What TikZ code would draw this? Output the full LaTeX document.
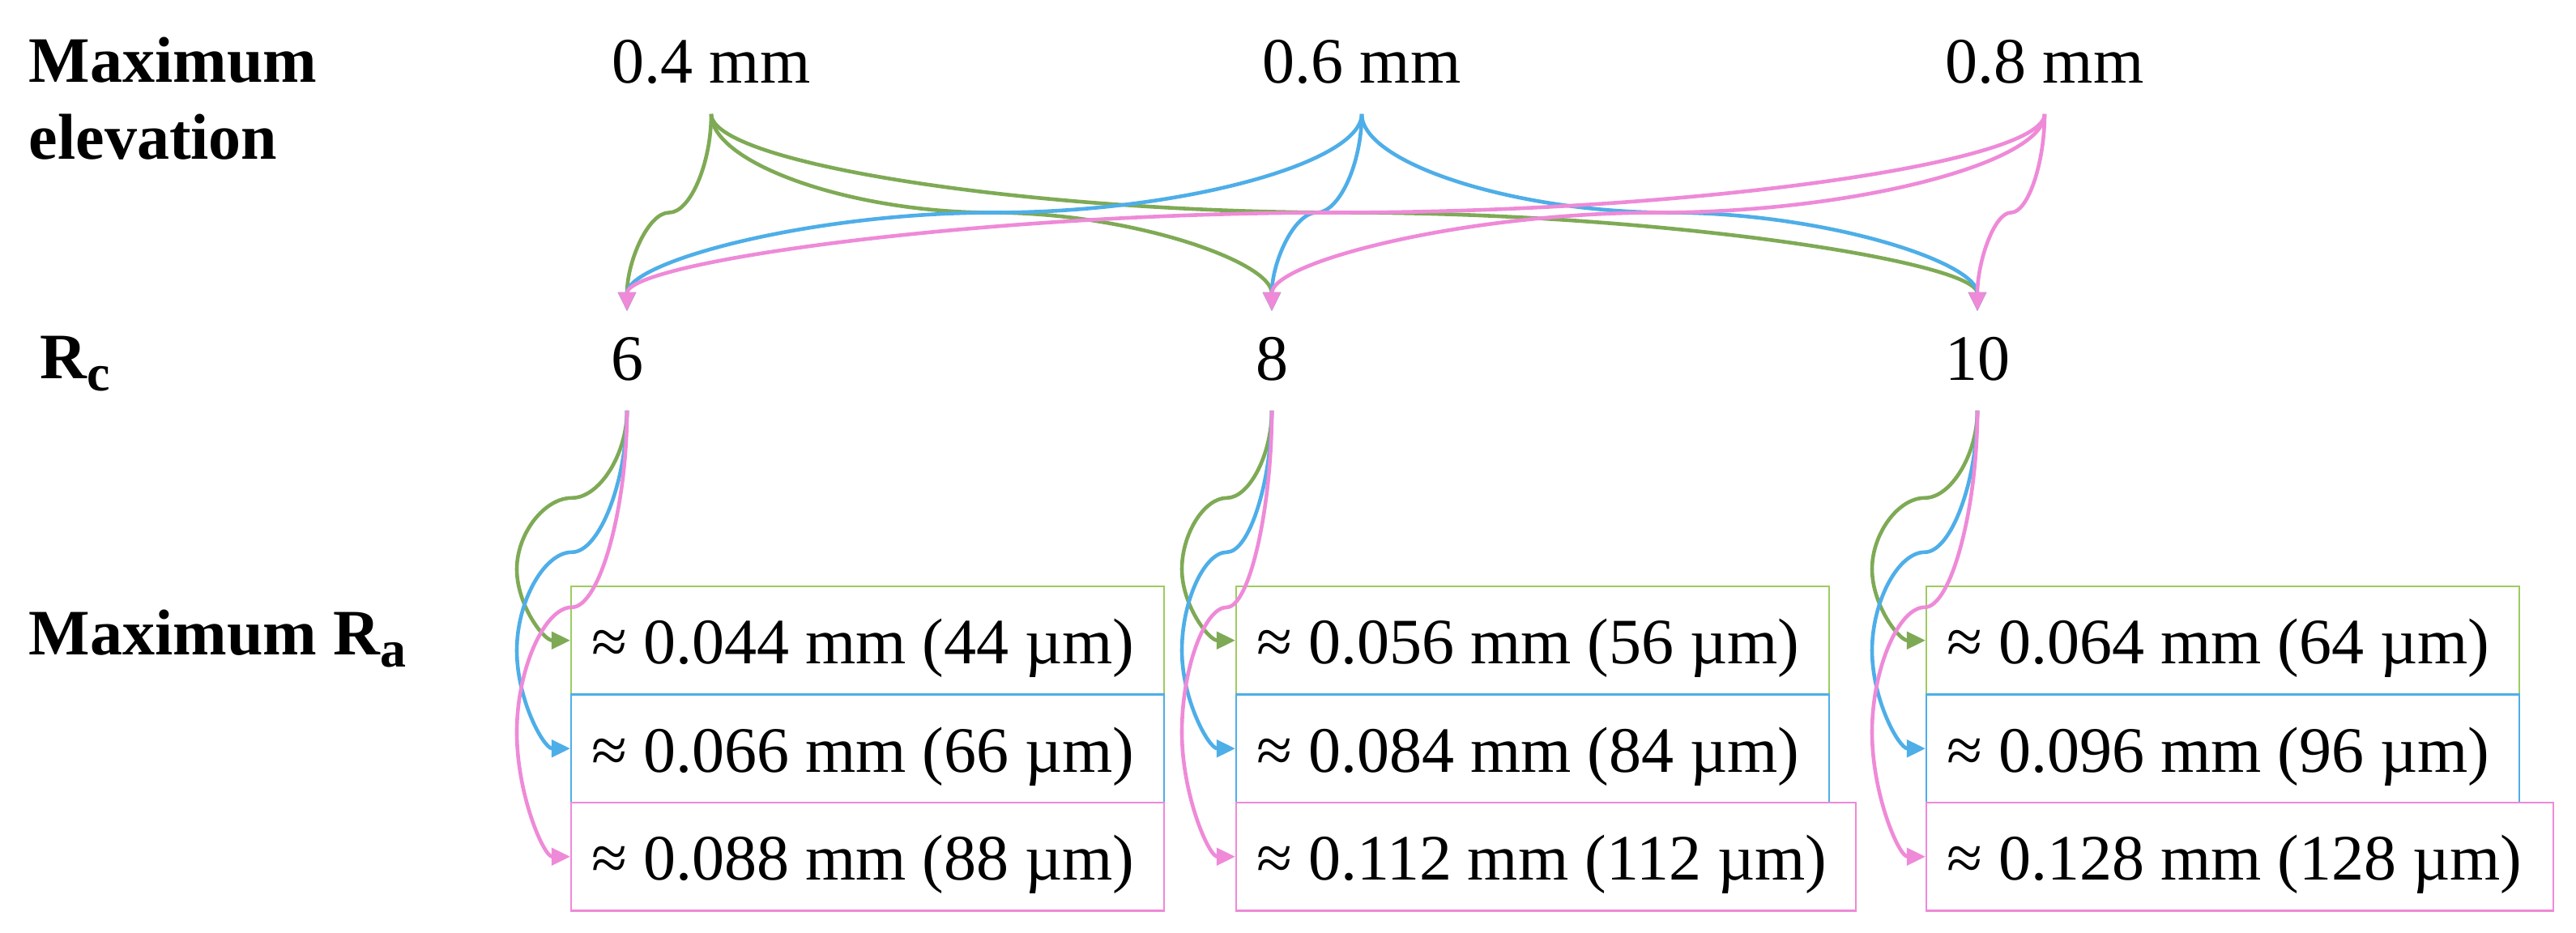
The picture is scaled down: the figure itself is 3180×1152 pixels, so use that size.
\documentclass[tikz,border=0pt]{standalone}
\usepackage{fontspec}
\setmainfont{Liberation Serif}
\usetikzlibrary{arrows.meta,calc}
\definecolor{cg}{RGB}{126,170,85}
\definecolor{cb}{RGB}{78,174,232}
\definecolor{cp}{RGB}{238,138,216}
\definecolor{cgb}{RGB}{158,203,98}
\newcommand\mysubs[1]{\raisebox{-3.75pt}{\fontsize{16pt}{16pt}\selectfont #1}}
% curved connector: vertical start, horizontal tangent at the midpoint, vertical end
\newcommand\topconn[3]{%
  \draw[#1] let \p1=(#2), \p2=(#3), \p3=($(\p1)!0.5!(\p2)$) in
    (\p1) .. controls (\x1,{(\y1+\y3)/2}) and ({(\x1+\x3)/2},\y3) .. (\p3)
          .. controls ({(\x3+\x2)/2},\y3) and (\x2,{(\y3+\y2)/2}) .. (\p2);}
% curved connector: vertical start, loops left, enters the box from the left
\newcommand\lowconn[4]{%
  \draw[#1] let \p1=(#2), \p2=(#3),
      \n1={\y1-#4},
      \n2={\x2-16.5pt},
      \n3={(\x1+\n2)/2},
      \n4={(\n1+\y2)/2} in
    (\p1) .. controls (\x1,{(\y1+\n1)/2}) and ({(\x1+\n3)/2},\n1) .. (\n3,\n1)
          .. controls ({(\n3+\n2)/2},\n1) and (\n2,{(\n1+\n4)/2}) .. (\n2,\n4)
          .. controls (\n2,{(\n4+\y2)/2}) and ({(\n2+\x2)/2},\y2) .. (\p2);}
\tikzset{
  conn/.style={line width=1.15pt, -{Triangle[length=5.8pt,width=5.3pt]}},
  gconn/.style={conn, draw=cg},
  bconn/.style={conn, draw=cb},
  pconn/.style={conn, draw=cp},
  lab/.style={font=\fontsize{20pt}{23.75pt}\selectfont\bfseries, align=left, inner sep=0pt, anchor=base west},
  toplab/.style={anchor=base, inner sep=0pt, text depth=9.25pt},
  midlab/.style={anchor=base, inner sep=0pt, text height=21.25pt, text depth=9pt},
  rabox/.style={draw=#1, line width=0.55pt, anchor=north west, minimum height=33.33pt,
    inner xsep=6.25pt, inner ysep=0pt, text height=17.5pt, text depth=3pt},
}
\begin{document}
\begin{tikzpicture}[x=0.25pt,y=-0.25pt,
  every node/.append style={font=\fontsize{20pt}{23.75pt}\selectfont}]
\useasboundingbox (0,0) rectangle (3180,1152);
% row labels (base anchor = baseline of the last line)
\node[lab] (lelev) at (35,197) {Maximum\\elevation};
\node[lab] (lrc) at (49,468) {R\mysubs{c}};
\node[lab] (lra) at (35,809) {Maximum R\mysubs{a}};
% maximum elevation
\node[toplab] (e4) at (878,103) {0.4 mm};
\node[toplab] (e6) at (1681,103) {0.6 mm};
\node[toplab] (e8) at (2524,103) {0.8 mm};
% Rc
\node[midlab] (r6) at (774,470) {6};
\node[midlab] (r8) at (1570,470) {8};
\node[midlab] (r10) at (2441,470) {10};
% Ra boxes
\node[rabox=cgb] (b6g) at (704,723) {\makebox[170.5pt][l]{≈ 0.044 mm (44 µm)}};
\node[rabox=cb]  (b6b) at (704,856.5) {\makebox[170.5pt][l]{≈ 0.066 mm (66 µm)}};
\node[rabox=cp]  (b6p) at (704,990) {\makebox[170.5pt][l]{≈ 0.088 mm (88 µm)}};
\node[rabox=cgb] (b8g) at (1525,723) {\makebox[170.5pt][l]{≈ 0.056 mm (56 µm)}};
\node[rabox=cb]  (b8b) at (1525,856.5) {\makebox[170.5pt][l]{≈ 0.084 mm (84 µm)}};
\node[rabox=cp]  (b8p) at (1525,990) {\makebox[178.75pt][l]{≈ 0.112 mm (112 µm)}};
\node[rabox=cgb] (b10g) at (2377,723) {\makebox[170.5pt][l]{≈ 0.064 mm (64 µm)}};
\node[rabox=cb]  (b10b) at (2377,856.5) {\makebox[170.5pt][l]{≈ 0.096 mm (96 µm)}};
\node[rabox=cp]  (b10p) at (2377,990) {\makebox[181pt][l]{≈ 0.128 mm (128 µm)}};
% elevation -> Rc
\topconn{gconn}{e4.south}{r6.north}
\topconn{gconn}{e4.south}{r8.north}
\topconn{gconn}{e4.south}{r10.north}
\topconn{bconn}{e6.south}{r6.north}
\topconn{bconn}{e6.south}{r8.north}
\topconn{bconn}{e6.south}{r10.north}
\topconn{pconn}{e8.south}{r6.north}
\topconn{pconn}{e8.south}{r8.north}
\topconn{pconn}{e8.south}{r10.north}
% Rc -> Ra
\lowconn{gconn}{r6.south}{b6g.west}{27pt}
\lowconn{bconn}{r6.south}{b6b.west}{43.75pt}
\lowconn{pconn}{r6.south}{b6p.west}{60.75pt}
\lowconn{gconn}{r8.south}{b8g.west}{27pt}
\lowconn{bconn}{r8.south}{b8b.west}{43.75pt}
\lowconn{pconn}{r8.south}{b8p.west}{60.75pt}
\lowconn{gconn}{r10.south}{b10g.west}{27pt}
\lowconn{bconn}{r10.south}{b10b.west}{43.75pt}
\lowconn{pconn}{r10.south}{b10p.west}{60.75pt}
\end{tikzpicture}
\end{document}
